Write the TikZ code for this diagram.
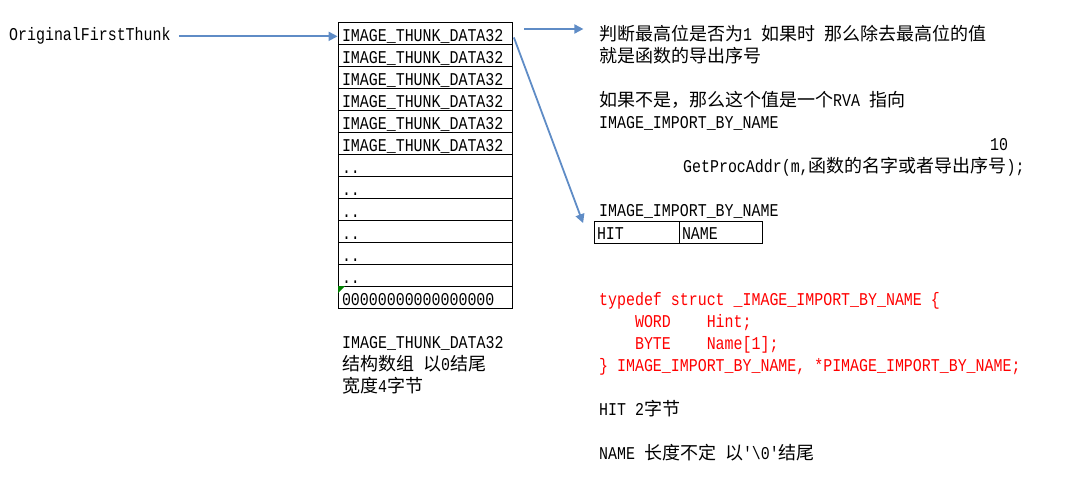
\documentclass[tikz,border=0pt]{standalone}
\usepackage{fontspec}
\newfontfamily\mono{Liberation Mono}[FakeStretch=0.83]
\newfontfamily\cjk{Noto Sans CJK SC}[Scale=1.0]
\usetikzlibrary{arrows.meta}
\definecolor{arrblue}{RGB}{95,140,198}
\definecolor{codered}{RGB}{255,0,0}
\definecolor{flaggreen}{RGB}{0,128,0}
\newcommand\zh[1]{{\cjk #1}}
\newcommand\fs{\mono\fontsize{18}{22}\selectfont}
\begin{document}
\begin{tikzpicture}[x=1pt,y=-1pt,
  txt/.style={anchor=base west, inner sep=0pt, font=\fs},
  row/.style={draw, line width=0.8pt, text width=166pt, inner xsep=4pt, inner ysep=0pt,
              text height=19.5pt, text depth=2.5pt, align=left, font=\fs},
  cellbox/.style={draw, line width=0.8pt, inner xsep=3pt, inner ysep=0pt,
              text height=18pt, text depth=4pt, align=left, font=\fs},
  arr/.style={draw=arrblue, line width=1.8pt, -{Triangle[length=9pt,width=9pt]}}]
\useasboundingbox (0,0) rectangle (1073,489);

% left label
\node[txt] (ofl) at (9,41) {OriginalFirstThunk};

% array of IMAGE_THUNK_DATA32
\node[row] (r1)  at (425,33)  {IMAGE\_THUNK\_DATA32};
\node[row] (r2)  at (425,55)  {IMAGE\_THUNK\_DATA32};
\node[row] (r3)  at (425,77)  {IMAGE\_THUNK\_DATA32};
\node[row] (r4)  at (425,99)  {IMAGE\_THUNK\_DATA32};
\node[row] (r5)  at (425,121) {IMAGE\_THUNK\_DATA32};
\node[row] (r6)  at (425,143) {IMAGE\_THUNK\_DATA32};
\node[row] (r7)  at (425,165) {..};
\node[row] (r8)  at (425,187) {..};
\node[row] (r9)  at (425,209) {..};
\node[row] (r10) at (425,231) {..};
\node[row] (r11) at (425,253) {..};
\node[row] (r12) at (425,275) {..};
\node[row] (r13) at (425,297) {00000000000000000};
\fill[flaggreen] ([shift={(0.5,0.5)}]r13.north west) -- ++(7,0) -- ++(-7,7) -- cycle;

% caption under the array
\node[txt] (cap1) at (342,348) {IMAGE\_THUNK\_DATA32};
\node[txt] (cap2) at (342,370) {\zh{结构数组} \zh{以}0\zh{结尾}};
\node[txt] (cap3) at (342,392) {\zh{宽度}4\zh{字节}};

% right side explanation
\node[txt] (t1) at (599,41)  {\zh{判断最高位是否为}1 \zh{如果时} \zh{那么除去最高位的值}};
\node[txt] (t2) at (599,63)  {\zh{就是函数的导出序号}};
\node[txt] (t3) at (599,107) {\zh{如果不是，那么这个值是一个}RVA \zh{指向}};
\node[txt] (t4) at (599,129) {IMAGE\_IMPORT\_BY\_NAME};
\node[txt] (t5) at (990,151) {10};
\node[txt] (t6) at (683,173) {GetProcAddr(m,\zh{函数的名字或者导出序号});};
\node[txt] (t7) at (599,217) {IMAGE\_IMPORT\_BY\_NAME};

% HIT / NAME table
\node[cellbox, text width=79pt] (hit)  at (636.5,232) {HIT};
\node[cellbox, text width=77pt] (name) at (720.5,232) {NAME};

% struct definition in red
\node[txt, text=codered] (c1) at (599,305) {typedef struct \_IMAGE\_IMPORT\_BY\_NAME \{};
\node[txt, text=codered] (c2) at (599,327) {\phantom{xxxx}WORD\phantom{xxxx}Hint;};
\node[txt, text=codered] (c3) at (599,349) {\phantom{xxxx}BYTE\phantom{xxxx}Name[1];};
\node[txt, text=codered] (c4) at (599,371) {\} IMAGE\_IMPORT\_BY\_NAME, *PIMAGE\_IMPORT\_BY\_NAME;};

\node[txt] (n1) at (599,415) {HIT 2\zh{字节}};
\node[txt] (n2) at (599,459) {NAME \zh{长度不定} \zh{以}'\textbackslash 0'\zh{结尾}};

% connectors
\draw[arr] ([xshift=8pt]ofl.east) -- (ofl.east -| r1.west);
\draw[arr] ([xshift=12pt,yshift=4pt]r1.east) -- ++(59,0);
\draw[arr] ([xshift=1.5pt,yshift=-4.5pt]r1.east) -- ([xshift=-10.5pt,yshift=-2.5pt]hit.north west);
\end{tikzpicture}
\end{document}
